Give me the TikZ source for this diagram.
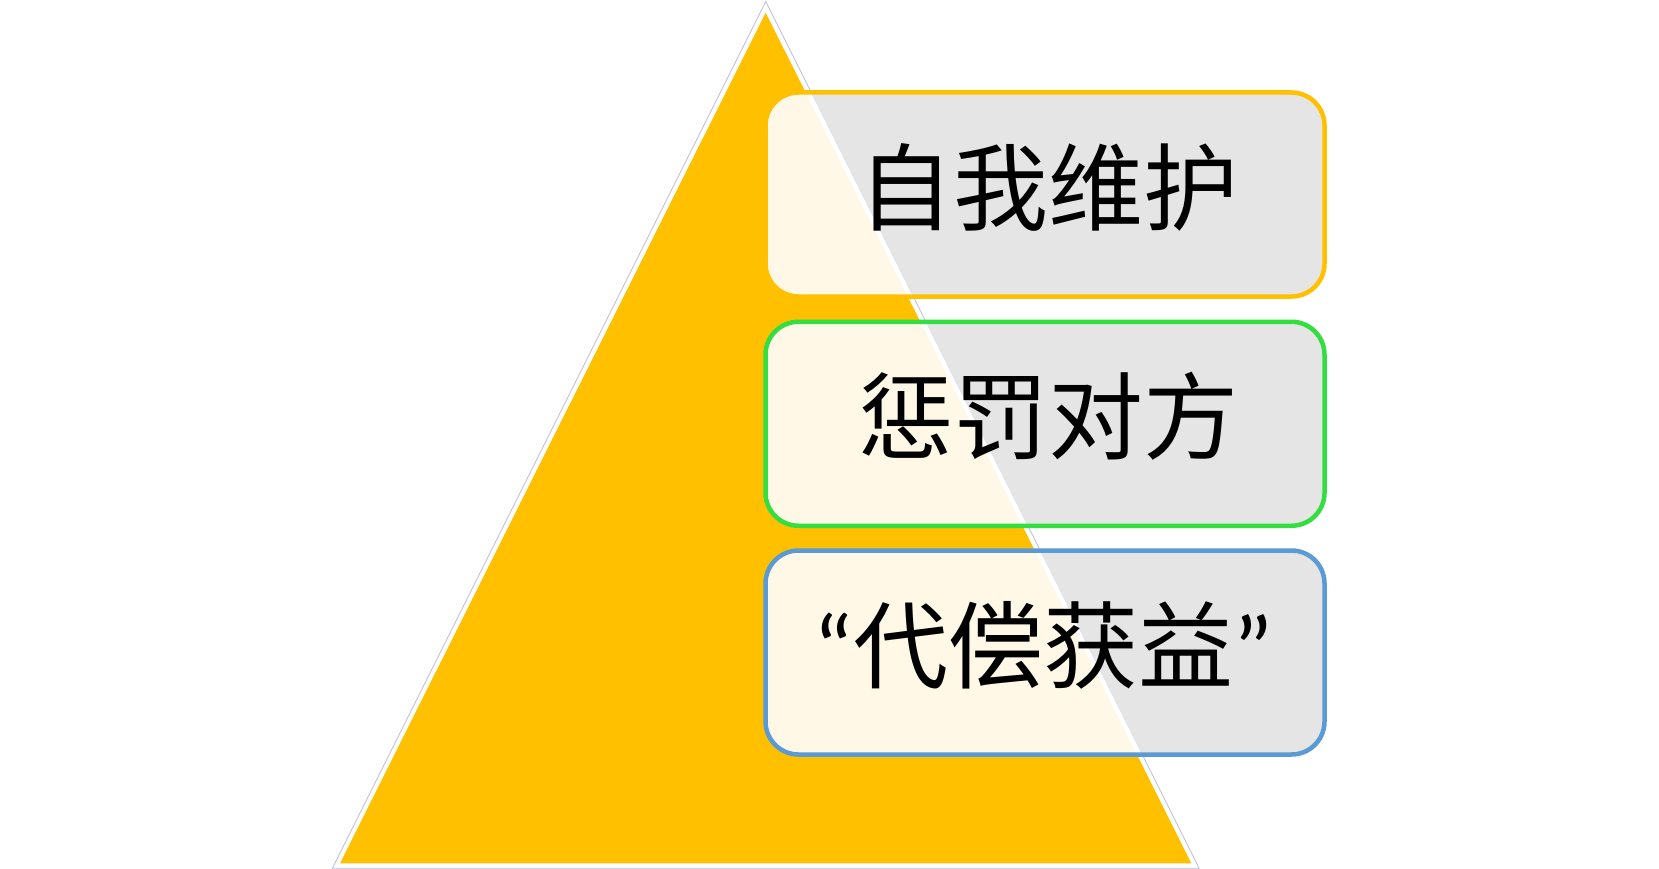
\documentclass[tikz,border=0pt]{standalone}
\usepackage{fontspec}
\newfontfamily\cjk{Noto Sans CJK SC}
\newfontfamily\quotefont{Carlito}
\definecolor{tri}{HTML}{FFC000}
\definecolor{boxgray}{HTML}{E5E5E5}
\definecolor{cream}{HTML}{FFF8E7}
\definecolor{edgeline}{HTML}{BDBFDD}
\definecolor{bordA}{HTML}{FFC000}
\definecolor{bordB}{RGB}{50,222,64}
\definecolor{bordC}{HTML}{5B9BD5}
\tikzset{
  boxframe/.style={rectangle, rounded corners=33pt, line width=4.5pt, minimum width=559pt, minimum height=204pt, inner sep=0pt},
  boxtext/.style={inner sep=0pt, font=\cjk\fontsize{95}{95}\selectfont, text=black}
}
\begin{document}
\begin{tikzpicture}[x=1pt,y=-1pt]
\useasboundingbox (0,0) rectangle (1659,869);
\fill[white] (0,0) rectangle (1659,869);
% triangle outline and fill
\draw[edgeline, line width=0.8pt] (765.7,1.5) -- (332.3,868.3) -- (1199.1,868.3) -- cycle;
\fill[tri] (765.7,12.7) -- (340,863.3) -- (1191.3,863.3) -- cycle;
% box fills
\foreach \ya/\yb in {93/296, 321.5/526, 550.5/754.5}{
  \begin{scope}
    \clip[rounded corners=33pt] (765.5,\ya) rectangle (1324.5,\yb);
    \fill[boxgray] (765.5,\ya) rectangle (1324.5,\yb);
    \fill[white] (765.7,1.5) -- (332.3,868.3) -- (1199.1,868.3) -- cycle;
    \draw[edgeline!50!white, line width=0.6pt] (765.7,1.5) -- (332.3,868.3) -- (1199.1,868.3) -- cycle;
    \fill[cream] (765.7,12.7) -- (340,863.3) -- (1191.3,863.3) -- cycle;
  \end{scope}
}
% box frames
\node[boxframe, draw=bordA] (b1) at (1045,194.5) {};
\node[boxframe, draw=bordB] (b2) at (1045,423.75) {};
\node[boxframe, draw=bordC] (b3) at (1045,652.5) {};
% texts
\node[boxtext] (t1) at (1048,187) {自我维护};
\node[boxtext] (t2) at (1048,416) {惩罚对方};
\node[boxtext] (t3) at (1043,645) {{\quotefont “}代偿获益{\quotefont ”}};
\end{tikzpicture}
\end{document}
